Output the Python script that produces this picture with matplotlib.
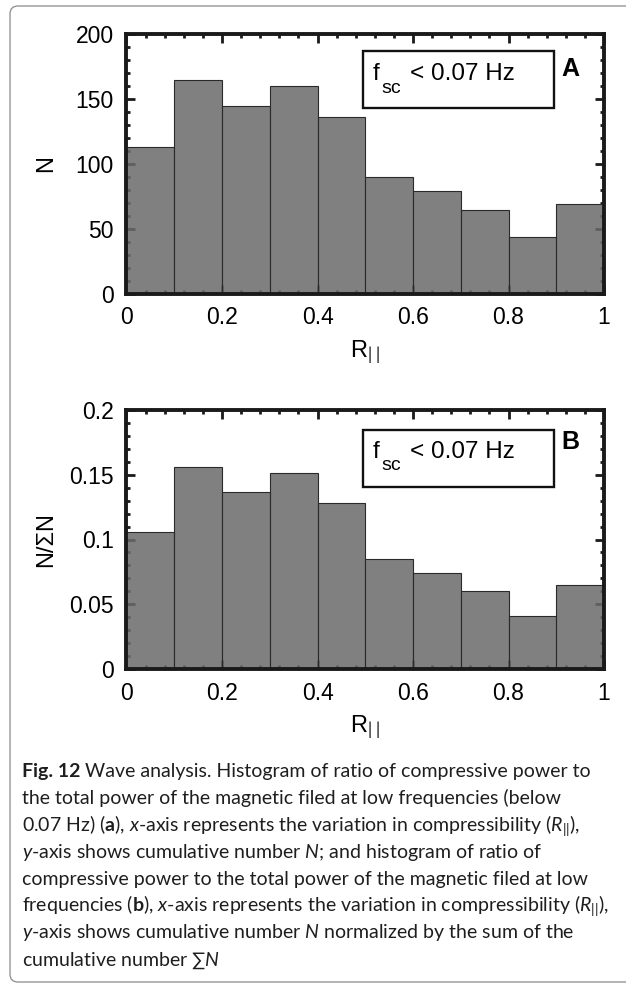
import matplotlib
matplotlib.use('Agg')
import matplotlib.pyplot as plt
from matplotlib.patches import Rectangle, FancyBboxPatch
from matplotlib.ticker import AutoMinorLocator, FuncFormatter

# histogram data
r_left = [0.0, 0.1, 0.2, 0.3, 0.4, 0.5, 0.6, 0.7, 0.8, 0.9]
counts_a = [113, 165, 145, 160, 136, 90, 79, 65, 44, 69]
frac_b = [0.106, 0.156, 0.137, 0.151, 0.128, 0.085, 0.074, 0.060, 0.041, 0.065]
x_ticks = [0, 0.2, 0.4, 0.6, 0.8, 1]
yticks_a = [0, 50, 100, 150, 200]
yticks_b = [0, 0.05, 0.1, 0.15, 0.2]

caption_head = 'Fig. 12'
caption = [
    r' Wave analysis. Histogram of ratio of compressive power to',
    r'the total power of the magnetic filed at low frequencies (below',
    r'0.07 Hz) ($\mathbf{a}$), $\mathit{x}$-axis represents the variation in compressibility ($\mathit{R}_{||}$),',
    r'$\mathit{y}$-axis shows cumulative number $\mathit{N}$; and histogram of ratio of',
    r'compressive power to the total power of the magnetic filed at low',
    r'frequencies ($\mathbf{b}$), $\mathit{x}$-axis represents the variation in compressibility ($\mathit{R}_{||}$),',
    r'$\mathit{y}$-axis shows cumulative number $\mathit{N}$ normalized by the sum of the',
    r'cumulative number $\sum\mathit{N}$',
]

plt.rcParams['font.family'] = ['Liberation Sans', 'DejaVu Sans']
plt.rcParams['mathtext.fontset'] = 'custom'
plt.rcParams['mathtext.rm'] = 'Lato'
plt.rcParams['mathtext.it'] = 'Lato:italic'
plt.rcParams['mathtext.bf'] = 'Lato:bold'

W, H = 626, 985
fig = plt.figure(figsize=(W / 100, H / 100), dpi=100)

# grey rounded frame, open to the right
frame = FancyBboxPatch((0.10, 0.03), 7.0, 9.76,
                       boxstyle='round,pad=0,rounding_size=0.08',
                       transform=fig.dpi_scale_trans, fill=False,
                       edgecolor='#8a8a8a', lw=0.9)
fig.patches.append(frame)

ax1 = fig.add_axes([126.5 / W, 1 - 294 / H, 477.5 / W, 260 / H])
ax2 = fig.add_axes([126.5 / W, 1 - 669 / H, 477.5 / W, 259 / H])

bar_face = (0.42, 0.42, 0.42, 0.86)
fmt = FuncFormatter(lambda v, p: f'{v:g}')

panels = [
    (ax1, counts_a, yticks_a, 'N', 'A', 0.715, 0.823, 0.773, 0.867),
    (ax2, frac_b, yticks_b, 'N/ΣN', 'B', 0.703, 0.815, 0.768, 0.876),
]

for ax, vals, yt, ylab, tag, box_y, txt_y, sub_y, tag_y in panels:
    ax.bar(r_left, vals, width=0.1, align='edge', color=bar_face,
           edgecolor='#2a2a2a', linewidth=0.8, zorder=1)
    ax.set_axisbelow(True)
    ax.set_xlim(0, 1)
    ax.set_ylim(yt[0], yt[-1])
    ax.set_xticks(x_ticks)
    ax.set_yticks(yt)
    ax.xaxis.set_major_formatter(fmt)
    ax.yaxis.set_major_formatter(fmt)
    ax.xaxis.set_minor_locator(AutoMinorLocator(5))
    ax.yaxis.set_minor_locator(AutoMinorLocator(5))
    ax.tick_params(which='both', direction='in', top=True, right=True,
                   width=2.0, color='#1a1a1a', labelsize=16.5, pad=9)
    ax.tick_params(which='major', length=6.5)
    ax.tick_params(which='minor', length=3)
    for s in ax.spines.values():
        s.set_linewidth(2.8)
        s.set_color('#1a1a1a')

    ax.set_xlabel(r'R$_{|\,\,|}$', fontsize=17, labelpad=6)
    ax.text(-0.1686, 0.5, ylab, transform=ax.transAxes, rotation=90,
            ha='center', va='center', fontsize=17)

    # annotation box
    ax.add_patch(Rectangle((0.495, box_y), 0.40, 0.22, transform=ax.transAxes,
                           facecolor='white', edgecolor='#111111', lw=1.7, zorder=5))
    ax.text(0.516, txt_y, 'f', transform=ax.transAxes, fontsize=17.5,
            va='baseline', ha='left', zorder=6)
    ax.text(0.534, sub_y, 'sc', transform=ax.transAxes, fontsize=14,
            va='baseline', ha='left', zorder=6)
    ax.text(0.594, txt_y, '< 0.07 Hz', transform=ax.transAxes, fontsize=17.5,
            va='baseline', ha='left', zorder=6)
    ax.text(0.929, tag_y, tag, transform=ax.transAxes, fontsize=18,
            fontweight='bold', ha='center', va='center', zorder=6)

# caption below the panels
y0 = 777
x0 = 22 / W
head = fig.text(x0, 1 - y0 / H, caption_head, family='Lato', fontweight='bold',
                fontsize=14, ha='left', va='baseline', color='#1e1e1e')
renderer = fig.canvas.get_renderer()
head_w = head.get_window_extent(renderer).width / W
for i, line in enumerate(caption):
    x = x0 + head_w if i == 0 else x0
    fig.text(x, 1 - (y0 + i * 26.9) / H, line, family='Lato',
             fontsize=14, ha='left', va='baseline', color='#1e1e1e')

fig.savefig('out.png', dpi=100)
